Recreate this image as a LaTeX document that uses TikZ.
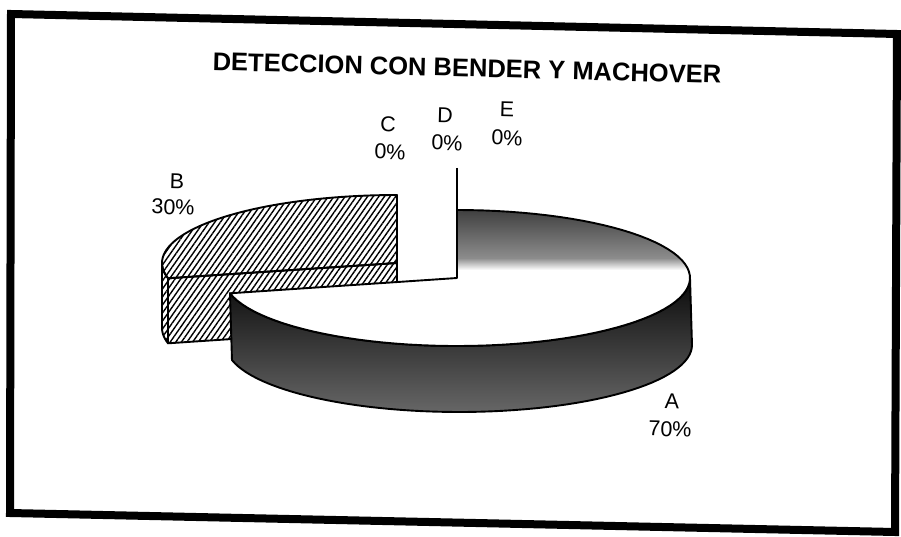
\documentclass[tikz,border=0pt]{standalone}
\usepackage{fontspec}
\setmainfont{Liberation Sans}
\usetikzlibrary{patterns.meta}
\begin{document}
\begin{tikzpicture}[x=1pt,y=-1pt,line join=round,
  outl/.style={draw=black,line width=1.9pt},
  hatchB/.style={pattern={Lines[angle=55,distance=4.6pt,line width=1.4pt]},pattern color=black},
  lbl/.style={font=\fontsize{21.5}{26}\selectfont,inner sep=0pt,rotate=-1.5},
  ttl/.style={font=\fontsize{25.5}{30}\selectfont\bfseries,inner sep=0pt,rotate=-1.5},
  frame/.style={draw=black,line width=8pt,line join=miter}]
\useasboundingbox (0,0) rectangle (901,537);
\fill[white] (0,0) rectangle (901,537);
% frame
\draw[frame] (11,14) -- (897,34) -- (895,532) -- (10,513) -- cycle;
% ---- slice B (exploded, hatched)
\draw[hatchB,outl] plot[domain=180:193,samples=8] ({397+235*cos(\x)},{263-68*sin(\x)})
  -- plot[domain=193:180,samples=8] ({397+235*cos(\x)},{328-68*sin(\x)}) -- cycle;
\draw[hatchB,outl] (397,263) -- ({397+235*cos(193)},{263-68*sin(193)})
  -- ({397+235*cos(193)},{328-68*sin(193)}) -- (397,328) -- cycle;
\draw[hatchB,outl] (397,263) -- plot[domain=90:193,samples=60] ({397+235*cos(\x)},{263-68*sin(\x)}) -- cycle;
% ---- slice A
\shade[top color=black!96,middle color=black!82,bottom color=black!60]
  plot[domain=-167:0,samples=60] ({457+233*cos(\x)},{278-68*sin(\x)})
  -- plot[domain=0:-167,samples=60] ({459+233*cos(\x)},{345-67*sin(\x)}) -- cycle;
\draw[outl] plot[domain=-167:0,samples=60] ({457+233*cos(\x)},{278-68*sin(\x)})
  -- plot[domain=0:-167,samples=60] ({459+233*cos(\x)},{345-67*sin(\x)}) -- cycle;
\fill[white] (457,278) -- plot[domain=90:-167,samples=80] ({457+233*cos(\x)},{278-68*sin(\x)}) -- cycle;
\begin{scope}
  \clip (457,278) -- plot[domain=90:-167,samples=80] ({457+233*cos(\x)},{278-68*sin(\x)}) -- cycle;
  \shade[top color=black!78,bottom color=black!45] (200,205) rectangle (700,258);
  \shade[top color=black!45,bottom color=white] (200,258) rectangle (700,270);
\end{scope}
\draw[outl] (457,278) -- plot[domain=90:-167,samples=80] ({457+233*cos(\x)},{278-68*sin(\x)}) -- cycle;
% zero slices C, D, E
\coordinate (zt) at (457,168);
\coordinate (zb) at (457,278);
\draw[line width=1.6pt] (zt) -- (zb);
% ---- texts
\node[ttl] (title) at (467,68) {DETECCION CON BENDER Y MACHOVER};
\node[lbl] (lB) at (177,181) {B};
\node[lbl] (pB) at (173,207) {30\%};
\node[lbl] (lC) at (388,124) {C};
\node[lbl] (pC) at (390,152) {0\%};
\node[lbl] (lD) at (445,115) {D};
\node[lbl] (pD) at (447,143) {0\%};
\node[lbl] (lE) at (507,109) {E};
\node[lbl] (pE) at (507,138) {0\%};
\node[lbl] (lA) at (672,401) {A};
\node[lbl] (pA) at (670,429) {70\%};
\end{tikzpicture}
\end{document}
